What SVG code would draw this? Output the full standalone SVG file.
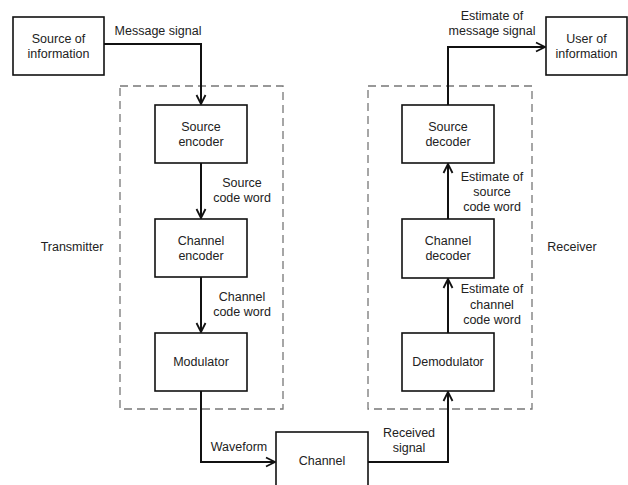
<svg xmlns="http://www.w3.org/2000/svg" width="628" height="485" viewBox="0 0 628 485">
<defs>
<style>
.box{fill:#fff;stroke:#111;stroke-width:1.6}
.dash{fill:none;stroke:#777;stroke-width:1.3;stroke-dasharray:8,5}
.con{fill:none;stroke:#111;stroke-width:2}
text{font-family:"Liberation Sans",Arial,sans-serif;font-size:12.5px;fill:#222;text-anchor:middle}
</style>
<marker id="arr" markerWidth="12" markerHeight="12" viewBox="0 0 12 12" refX="10" refY="6" orient="auto" markerUnits="userSpaceOnUse">
<path d="M1,1.5 L10,6 L1,10.5" fill="none" stroke="#111" stroke-width="1.8"/>
</marker>
</defs>
<rect width="628" height="485" fill="#fff"/>
<g id="transmitter">
<rect class="dash" x="120" y="86" width="163" height="323"/>
<text x="72" y="251">Transmitter</text>
</g>
<g id="receiver">
<rect class="dash" x="368" y="86" width="164" height="323"/>
<text x="572" y="251">Receiver</text>
</g>
<g id="connectors">
<path class="con" d="M104,44 H201 V104" marker-end="url(#arr)"/>
<path class="con" d="M201,163 V218" marker-end="url(#arr)"/>
<path class="con" d="M201,277 V332" marker-end="url(#arr)"/>
<path class="con" d="M201,391 V462 H275" marker-end="url(#arr)"/>
<path class="con" d="M368,462 H448 V392" marker-end="url(#arr)"/>
<path class="con" d="M448,333 V279" marker-end="url(#arr)"/>
<path class="con" d="M448,219 V164" marker-end="url(#arr)"/>
<path class="con" d="M448,105 V47 H545" marker-end="url(#arr)"/>
<text x="158" y="35">Message signal</text>
<text x="242" y="187">Source</text>
<text x="242" y="202">code word</text>
<text x="242" y="301">Channel</text>
<text x="242" y="316">code word</text>
<text x="239" y="451">Waveform</text>
<text x="409" y="437">Received</text>
<text x="409" y="452">signal</text>
<text x="492" y="181">Estimate of</text>
<text x="492" y="196">source</text>
<text x="492" y="211">code word</text>
<text x="492" y="293">Estimate of</text>
<text x="492" y="309">channel</text>
<text x="492" y="324">code word</text>
<text x="492" y="20">Estimate of</text>
<text x="492" y="35">message signal</text>
</g>
<g id="source-info">
<rect class="box" x="13" y="17" width="91" height="58"/>
<text x="58.5" y="43">Source of</text>
<text x="58.5" y="58">information</text>
</g>
<g id="source-encoder">
<rect class="box" x="155" y="105" width="92" height="58"/>
<text x="201" y="131">Source</text>
<text x="201" y="146">encoder</text>
</g>
<g id="channel-encoder">
<rect class="box" x="155" y="219" width="92" height="58"/>
<text x="201" y="245">Channel</text>
<text x="201" y="260">encoder</text>
</g>
<g id="modulator">
<rect class="box" x="155" y="333" width="92" height="58"/>
<text x="201" y="366">Modulator</text>
</g>
<g id="channel">
<rect class="box" x="276" y="432" width="92" height="60"/>
<text x="322" y="465">Channel</text>
</g>
<g id="demodulator">
<rect class="box" x="402" y="333" width="92" height="58"/>
<text x="448" y="366">Demodulator</text>
</g>
<g id="channel-decoder">
<rect class="box" x="402" y="219" width="92" height="59"/>
<text x="448" y="245">Channel</text>
<text x="448" y="260">decoder</text>
</g>
<g id="source-decoder">
<rect class="box" x="402" y="105" width="92" height="58"/>
<text x="448" y="131">Source</text>
<text x="448" y="146">decoder</text>
</g>
<g id="user-info">
<rect class="box" x="546" y="17" width="81" height="58"/>
<text x="586.5" y="43">User of</text>
<text x="586.5" y="58">information</text>
</g>
</svg>
